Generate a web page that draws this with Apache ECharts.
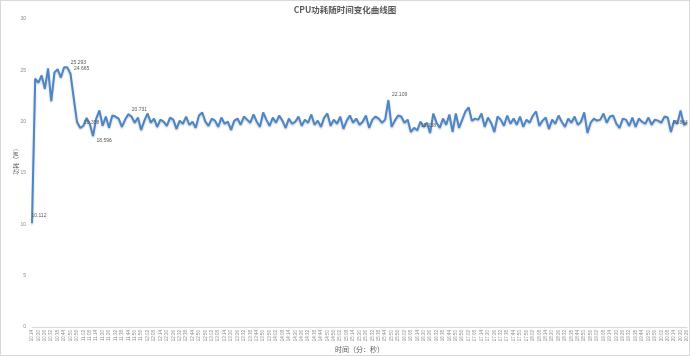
<!DOCTYPE html>
<html><head><meta charset="utf-8">
<script src="https://cdn.jsdelivr.net/npm/echarts@6/dist/echarts.min.js"></script>
<style>html,body{margin:0;padding:0;background:#fff}#c{width:690px;height:356px;box-sizing:border-box;border:1px solid #d9d9d9}</style>
</head><body><div id="c"></div>
<script>
const chartTitle = 'CPU功耗随时间变化曲线图';
const xName = '时间（分：秒）';
const yName = '功耗（W）';
const yTicks = [0, 5, 10, 15, 20, 25, 30];
const startSeconds = 614;
const stepSeconds = 3;
const power = [
10.112, 24.2, 23.8, 24.5, 23.2, 25.2, 22.0, 24.8, 25.1, 24.3,
25.3, 25.293, 24.665, 22.3, 20.0, 19.4, 19.6, 20.358, 19.8, 18.596,
20.3, 21.1, 19.6, 20.5, 19.4, 20.6, 20.5, 20.3, 19.5, 20.2,
20.731, 20.5, 19.9, 20.4, 19.2,
20.1, 20.8, 19.9, 20.3, 19.5, 20.2, 20.0, 19.6, 20.4, 20.2, 19.3, 20.1, 19.8, 20.5, 19.7, 20.0, 19.4, 20.6, 20.9, 20.0, 19.6, 20.3, 20.1, 19.5, 20.4, 19.8,
20.0, 19.2, 20.1, 20.3, 19.7, 20.5, 20.2, 19.9, 20.7, 20.0, 19.5, 20.9, 20.2, 19.6, 20.4, 19.9, 20.6, 20.1, 19.4, 20.3, 19.8, 20.0, 20.5, 19.6, 20.2, 19.9, 20.7, 19.7, 20.1, 19.5,
20.4, 20.8, 19.6, 20.2, 19.8, 20.5, 19.3, 20.1, 20.6, 19.9, 20.3, 19.7, 20.0, 20.6, 19.4, 20.2, 20.5, 20.3, 19.9, 20.2,
22.109,
19.5, 20.1, 20.6, 20.5, 19.9, 20.2, 19.0, 19.4, 19.158, 20.0, 19.5, 19.9, 18.9, 20.8, 19.9, 19.4, 20.3, 19.7, 20.7,
19.0, 20.8, 19.4, 20.2, 21.0, 21.4, 20.1, 20.3, 20.2, 20.8, 19.5, 20.4, 19.9, 19.0, 20.5, 20.2, 19.6, 20.6, 19.8, 20.3,
19.7, 20.5, 19.5, 20.2, 19.9, 20.6, 21.0, 19.6, 20.1, 20.4, 19.3, 20.2, 19.8, 20.6, 20.0, 19.5, 20.3, 19.9, 20.5, 19.7,
20.0, 20.9, 18.9, 19.9, 20.3, 20.1, 20.2, 20.8, 19.9, 20.5, 20.6, 19.8, 19.4, 20.3, 20.2, 19.6, 20.4, 19.5, 20.3, 20.0,
19.8, 20.4, 19.7, 20.2, 20.1, 19.9, 20.5, 20.4, 19.0, 20.1, 19.8, 21.1, 19.7, 19.844
];
const labeledIdx = [0, 11, 12, 17, 19, 30, 111, 120];
const lastIdx = power.length - 1;

function fmt(s){
  const m = Math.floor(s/60);
  const r = s - m*60;
  return m + ':' + (r < 10 ? '0' : '') + r;
}
const categories = power.map((_, i) => fmt(startSeconds + i*stepSeconds));

function labelPos(i){
  if (i === 0) return [0, -10];
  if (i === 17) return [-2, 3];
  if (i === 19) return [4, 3];
  if (i === lastIdx) return [-14, -3];
  return [4, -7];
}
const seriesData = power.map((v, i) => {
  if (labeledIdx.includes(i) || i === lastIdx) {
    return {value: v, label: {show: true, position: labelPos(i)}};
  }
  return v;
});

const chart = echarts.init(document.getElementById('c'));
chart.setOption({
  animation: false,
  title: {text: chartTitle, left: 'center', top: 0, textStyle: {fontSize: 8.5, fontWeight: 'bold', color: '#595959', fontFamily: 'Noto Sans CJK SC'}},
  grid: {left: 31, right: 2, top: 18, bottom: 28, containLabel: false, outerBoundsMode: 'none'},
  xAxis: {
    type: 'category', data: categories, boundaryGap: false,
    name: xName, nameLocation: 'middle', nameGap: 19, nameMoveOverlap: false,
    nameTextStyle: {fontSize: 7, color: '#595959', fontFamily: 'Noto Sans CJK SC'},
    axisLine: {lineStyle: {color: '#d9d9d9'}},
    axisTick: {show: false},
    axisLabel: {interval: 1, rotate: 90, fontSize: 4.5, color: '#8c8c8c', margin: 3}
  },
  yAxis: {
    type: 'value', min: 0, max: 30, interval: 5,
    name: yName, nameLocation: 'middle', nameGap: 13, nameRotate: 90, nameMoveOverlap: false,
    nameTextStyle: {fontSize: 6, color: '#595959', fontFamily: 'Noto Sans CJK SC', padding: [0, 0, 0, 26]},
    axisLine: {show: false}, axisTick: {show: false},
    splitLine: {show: false},
    axisLabel: {fontSize: 5, color: '#8c8c8c', margin: 6}
  },
  series: [{
    type: 'line', data: seriesData, showSymbol: true, symbol: 'circle', symbolSize: 1,
    itemStyle: {color: 'rgba(0,0,0,0)', borderWidth: 0},
    lineStyle: {color: '#4a86c8', width: 2, shadowColor: 'rgba(0,0,0,0.25)', shadowBlur: 2, shadowOffsetY: 1},
    labelLayout: {hideOverlap: false},
    label: {show: false, fontSize: 5, color: '#595959', formatter: p => p.value.toFixed(3)}
  }]
});
</script></body></html>
